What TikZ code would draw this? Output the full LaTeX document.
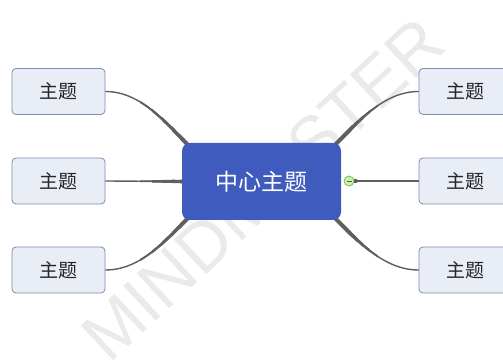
\documentclass[tikz,border=0pt]{standalone}
\usepackage{fontspec}
\newfontfamily\cjk{Noto Sans CJK SC}
\newfontfamily\wmfont{Liberation Sans}
\usetikzlibrary{backgrounds}
\definecolor{centerblue}{RGB}{63,91,190}
\definecolor{leaffill}{RGB}{233,237,246}
\definecolor{leafborder}{RGB}{125,140,175}
\definecolor{linkgray}{RGB}{95,95,95}
\definecolor{wmgray}{RGB}{234,234,234}
\definecolor{togfill}{RGB}{205,240,175}
\definecolor{togborder}{RGB}{110,180,80}
\newcommand\mmLinks[1]{%
  \draw[link,#1] (L1.east) .. controls +(35,0) and +(-25,25) .. (CTL);
  \draw[link,#1] (L2.east) -- (C.west);
  \draw[link,#1] (L3.east) .. controls +(35,0) and +(-25,-25) .. (CBL);
  \draw[link,#1] (CTR) .. controls +(25,25) and +(-35,0) .. (R1.west);
  \draw[link,#1] (G.east) -- (R2.west);
  \draw[link,#1] (CBR) .. controls +(25,-25) and +(-35,0) .. (R3.west);
}
\newcommand\mmTaper[3]{%
  \begin{scope}
    \clip (#1,0) rectangle (200,363) (325,0) rectangle (#2,363);
    \mmLinks{line width=#3}
  \end{scope}
}
\begin{document}
\begin{tikzpicture}[x=1pt,y=1pt,
  leaf/.style={draw=leafborder, fill=leaffill, line width=0.8pt, rounded corners=4pt,
    minimum width=93pt, minimum height=46pt, inner sep=0pt,
    font=\cjk\fontsize{19}{19}\selectfont, text=black!85},
  hub/.style={fill=centerblue, rounded corners=8pt, minimum width=159pt, minimum height=77pt,
    inner sep=0pt, text=white, font=\cjk\fontsize{23}{23}\selectfont},
  toggle/.style={circle, draw=togborder, fill=togfill, line width=0.7pt, minimum size=10pt, inner sep=0pt},
  link/.style={draw=linkgray, line cap=round},
]
\useasboundingbox (0,0) rectangle (503,363);
\clip (0,0) rectangle (503,363);

\node[hub] (C) at (261.5,181.5) {中心主题};
\node[leaf] (L1) at (58.5,271.5) {主题};
\node[leaf] (L2) at (58.5,182) {主题};
\node[leaf] (L3) at (58.5,93) {主题};
\node[leaf] (R1) at (465.5,271.5) {主题};
\node[leaf] (R2) at (465.5,182) {主题};
\node[leaf] (R3) at (465.5,93) {主题};
\node[toggle] (G) at (349,182) {};
\draw[togborder!60!black, line width=0.8pt] ([xshift=-2.5pt]G.center) -- ([xshift=2.5pt]G.center);

\coordinate (CTL) at ([shift={(8,-4)}]C.north west);
\coordinate (CBL) at ([shift={(8,4)}]C.south west);
\coordinate (CTR) at ([shift={(-8,-4)}]C.north east);
\coordinate (CBR) at ([shift={(-8,4)}]C.south east);

\begin{scope}[on background layer]
  \fill[white] (0,0) rectangle (503,363);
  \node[rotate=43, text=wmgray, font=\wmfont\fontsize{69}{69}\selectfont] (wm) at (263,174) {MINDMASTER};
  \mmLinks{line width=1.4pt}
  \mmTaper{140}{378}{1.9pt}
  \mmTaper{152}{370}{2.4pt}
  \mmTaper{162}{363}{2.9pt}
  \mmTaper{172}{357}{3.4pt}
  \mmTaper{180}{352}{3.9pt}
\end{scope}
\end{tikzpicture}
\end{document}
